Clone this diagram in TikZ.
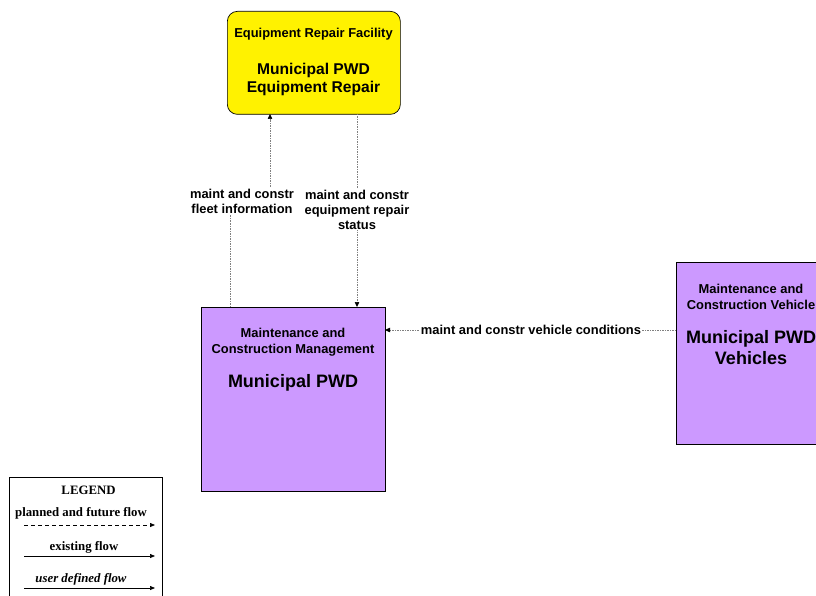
\documentclass[tikz,border=0pt]{standalone}
\usepackage{fontspec}
\setmainfont{Liberation Sans}
\newfontfamily\legfont{Liberation Serif}
\usetikzlibrary{arrows.meta,calc}
\definecolor{purp}{HTML}{CC99FF}
\tikzset{
  box/.style={draw=black, line width=0.7pt, anchor=north west, inner sep=0pt},
  flow/.style={draw=gray, line width=0.5pt, dash pattern=on 1.5pt off 1pt, -{Triangle[length=5pt,width=4.5pt,fill=black,color=black]}},
  lbl/.style={fill=white, inner sep=1pt, align=center, font=\bfseries\fontsize{12.9}{15}\selectfont},
  small/.style={align=center, font=\bfseries\fontsize{12.9}{16}\selectfont},
  big/.style={align=center, font=\bfseries\fontsize{15.6}{18}\selectfont},
  bigger/.style={align=center, font=\bfseries\fontsize{18}{21}\selectfont},
  leg/.style={font=\legfont\bfseries\fontsize{12.8}{14}\selectfont},
  legarrow/.style={line width=0.7pt, -{Triangle[length=5pt,width=4pt]}}
}
\begin{document}
\begin{tikzpicture}[x=1pt,y=-1pt]
\useasboundingbox (0,0) rectangle (816,596);
\clip (0,0) rectangle (816,596);
% boxes
\node[box, fill=yellow, rounded corners=10pt, minimum width=173pt, minimum height=103pt] (erf) at (227,11) {};
\node[small] (erft) at (313.5,34) {Equipment Repair Facility};
\node[big] (erfn) at (313.5,79) {Municipal PWD\\Equipment Repair};
\node[box, fill=purp, minimum width=184pt, minimum height=184pt] (mgmt) at (201,307) {};
\node[small] (mgmtt) at (293,342) {Maintenance and\\Construction Management};
\node[bigger] (mgmtn) at (293,383) {Municipal PWD};
\node[box, fill=purp, minimum width=160pt, minimum height=182pt] (veh) at (676,262) {};
\node[small] (veht) at (751,296.5) {Maintenance and\\Construction Vehicle};
\node[bigger] (vehn) at (751,348) {Municipal PWD\\Vehicles};
% coordinates
\coordinate (a1s) at (230,307);
\coordinate (a1m) at (230,201);
\coordinate (a1n) at (270,201);
\coordinate (a1e) at (270,114);
\coordinate (a2s) at (357,114);
\coordinate (a2e) at (357,307);
\coordinate (a3s) at (676,330);
\coordinate (a3e) at (385,330);
% flows
\draw[flow] (a1s) -- (a1m) -- (a1n) -- (a1e);
\draw[flow] (a2s) -- (a2e);
\draw[flow] (a3s) -- (a3e);
\node[lbl] (l1) at (242,201.5) {maint and constr\\fleet information};
\node[lbl] (l2) at (357,209.5) {maint and constr\\equipment repair\\status};
\node[lbl] (l3) at (531,329.5) {maint and constr vehicle conditions};
% legend
\node[box, minimum width=153pt, minimum height=130pt] (legbox) at (9,477) {};
\node[leg] (legt) at (88.5,490) {LEGEND};
\node[leg] (leg1) at (81,513) {planned and future flow};
\coordinate (lg1a) at (24,525);
\coordinate (lg1b) at (155,525);
\draw[legarrow, dash pattern=on 4pt off 3pt] (lg1a) -- (lg1b);
\node[leg] (leg2) at (84,547) {existing flow};
\coordinate (lg2a) at (24,556);
\coordinate (lg2b) at (155,556);
\draw[legarrow] (lg2a) -- (lg2b);
\node[leg, font=\legfont\bfseries\itshape\fontsize{12.8}{14}\selectfont] (leg3) at (81,579) {user defined flow};
\coordinate (lg3a) at (24,588);
\coordinate (lg3b) at (155,588);
\draw[legarrow] (lg3a) -- (lg3b);
\end{tikzpicture}
\end{document}
